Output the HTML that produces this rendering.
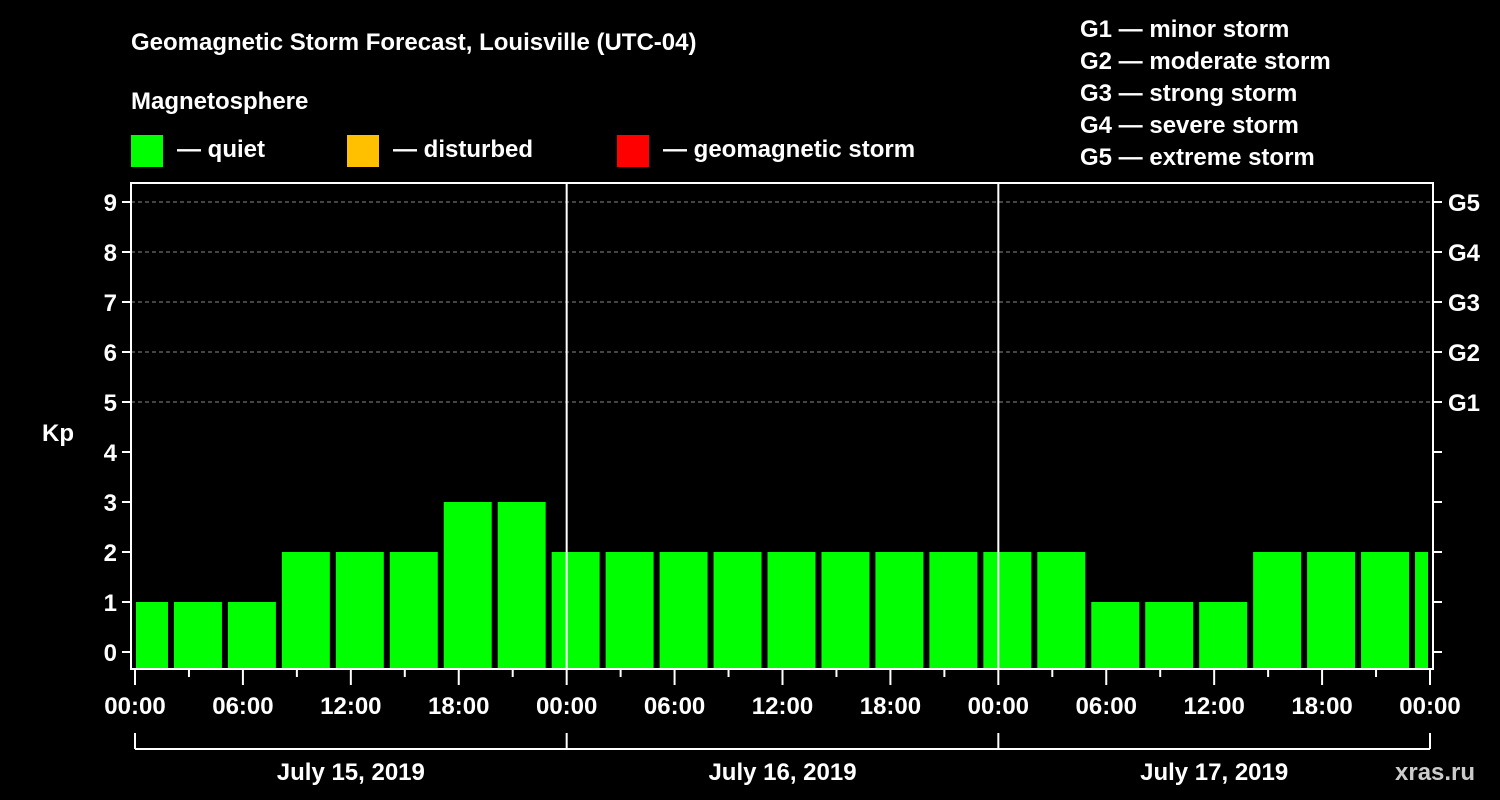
<!DOCTYPE html>
<html><head><meta charset="utf-8"><style>
html,body{margin:0;padding:0;background:#000;width:1500px;height:800px;overflow:hidden}
svg text{font-family:"Liberation Sans",Arial,sans-serif;font-weight:bold;fill:#fff}
</style></head><body>
<svg id="chart" width="1500" height="800">
<text x="131" y="50" font-size="24">Geomagnetic Storm Forecast, Louisville (UTC-04)</text>
<text x="131" y="109" font-size="24">Magnetosphere</text>
<g><rect x="131" y="135" width="32" height="32" fill="#00ff00"/><text x="177" y="157" font-size="24">— quiet</text></g>
<g><rect x="347" y="135" width="32" height="32" fill="#ffc000"/><text x="393" y="157" font-size="24">— disturbed</text></g>
<g><rect x="617" y="135" width="32" height="32" fill="#ff0000"/><text x="663" y="157" font-size="24">— geomagnetic storm</text></g>
<g font-size="24">
<text x="1080" y="37">G1 — minor storm</text><text x="1080" y="69">G2 — moderate storm</text><text x="1080" y="101">G3 — strong storm</text><text x="1080" y="133">G4 — severe storm</text><text x="1080" y="165">G5 — extreme storm</text></g>
<g id="grid"></g><g id="bars"></g><g id="axes"></g>
<text x="42" y="441" font-size="24">Kp</text>
<text x="1395" y="780" font-size="24" fill="#fff" style="fill:#ccc">xras.ru</text>
</svg>
<script>
const binStarts=[-1,2,5,8,11,14,17,20,23,26,29,32,35,38,41,44,47,50,53,56,59,62,65,68,71];
const kpValues=[1,1,1,2,2,2,3,3,2,2,2,2,2,2,2,2,2,2,1,1,1,2,2,2,2];
const yTicks=[0,1,2,3,4,5,6,7,8,9];
const gLabels=["G1","G2","G3","G4","G5"];
const xTickLabels=["00:00","06:00","12:00","18:00","00:00","06:00","12:00","18:00","00:00","06:00","12:00","18:00","00:00"];
const dateLabels=["July 15, 2019","July 16, 2019","July 17, 2019"];
const NS="http://www.w3.org/2000/svg";
const X0=135,X1=1430,HOURS=72,PL=131,PR=1433,PT=183,PB=669;
const x=h=>X0+(X1-X0)*h/HOURS;
const y=v=>652-50*v;
function mk(t,a,p){const e=document.createElementNS(NS,t);for(const k in a)e.setAttribute(k,a[k]);p.appendChild(e);return e;}
const grid=document.getElementById('grid'),bars=document.getElementById('bars'),axes=document.getElementById('axes');
for(let v=5;v<=9;v++){const l=mk('line',{x1:PL,x2:PR,y1:y(v),y2:y(v),stroke:'#888','stroke-dasharray':'4,3','stroke-width':1},grid);

}
binStarts.forEach((s,i)=>{const a=Math.max(x(s)+3,X0+1),b=Math.min(x(s+3)-3,X1-2);const v=kpValues[i];
const c=v>=5?'#ff0000':v>=4?'#ffc000':'#00ff00';
const r=mk('rect',{x:a,y:y(v),width:b-a,height:PB-1-y(v),fill:c},bars);

});
[24,48].forEach(h=>{const l=mk('line',{x1:x(h),x2:x(h),y1:PT,y2:PB,stroke:'#fff','stroke-width':2},axes);

});
const frame=mk('rect',{x:PL,y:PT,width:PR-PL,height:PB-PT,fill:'none',stroke:'#fff','stroke-width':2},axes);


yTicks.forEach(v=>{mk('line',{x1:PL-9,x2:PL,y1:y(v),y2:y(v),stroke:'#fff','stroke-width':2},axes);
mk('line',{x1:PR,x2:PR+9,y1:y(v),y2:y(v),stroke:'#fff','stroke-width':2},axes);
const t=mk('text',{x:PL-14,y:y(v)+9,'font-size':24,'text-anchor':'end'},axes);t.textContent=v;

});
gLabels.forEach((g,i)=>{const t=mk('text',{x:1448,y:y(5+i)+9,'font-size':24},axes);t.textContent=g;

});
for(let h=0;h<=72;h+=3){mk('line',{x1:x(h),x2:x(h),y1:PB,y2:PB+(h%6==0?16:8),stroke:'#fff','stroke-width':2},axes);}
xTickLabels.forEach((s,i)=>{const t=mk('text',{x:x(i*6),y:714,'font-size':24,'text-anchor':'middle'},axes);t.textContent=s;

});
mk('line',{x1:X0,x2:X1,y1:749,y2:749,stroke:'#fff','stroke-width':2},axes);
[0,24,48,72].forEach(h=>mk('line',{x1:x(h),x2:x(h),y1:733,y2:749,stroke:'#fff','stroke-width':2},axes));
dateLabels.forEach((s,i)=>{const t=mk('text',{x:x(i*24+12),y:780,'font-size':24,'text-anchor':'middle'},axes);t.textContent=s;

});
</script>
</body></html>
